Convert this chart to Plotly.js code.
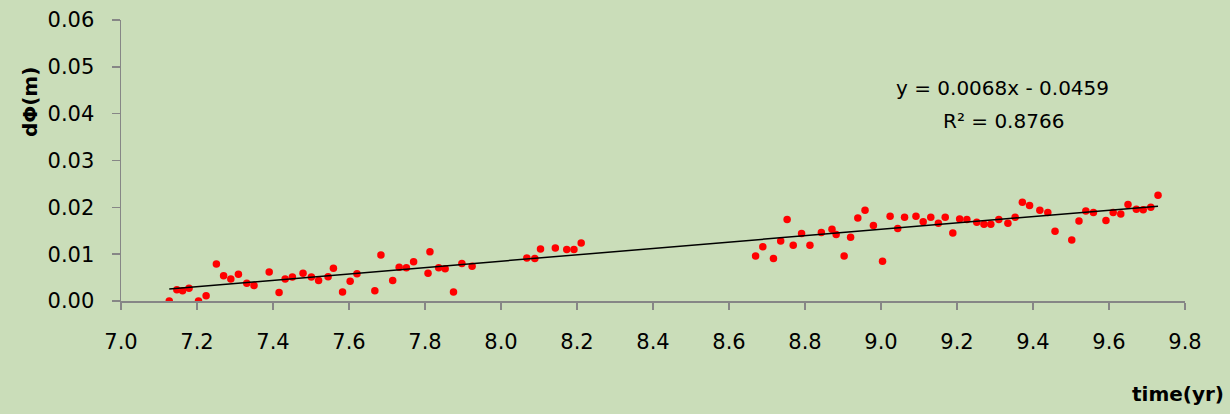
<!DOCTYPE html>
<html>
<head>
<meta charset="utf-8">
<script src="https://cdn.plot.ly/plotly-3.0.1.min.js"></script>
<style>html,body{margin:0;padding:0;background:#CADDB9;}#chart{width:1230px;height:414px;}</style>
</head>
<body>
<div id="chart"></div>
<script>
const timeYr = [7.127,7.147,7.162,7.179,7.204,7.224,7.251,7.270,7.289,7.309,7.331,7.350,7.390,7.416,7.432,7.451,7.479,7.501,7.520,7.545,7.559,7.583,7.603,7.621,
7.668,7.684,7.715,7.732,7.751,7.770,7.808,7.813,7.836,7.853,7.875,7.897,7.924,8.068,8.089,8.104,8.143,8.173,8.192,8.211,
8.670,8.689,8.717,8.736,8.753,8.769,8.791,8.813,8.843,8.871,8.882,8.903,8.920,8.939,8.958,8.980,9.004,9.024,9.044,9.062,9.092,9.111,9.131,9.151,9.169,9.189,9.207,9.226,9.252,
9.271,9.289,9.310,9.334,9.353,9.372,9.391,9.418,9.439,9.458,9.502,9.521,9.539,9.559,9.592,9.611,9.631,9.650,9.672,9.690,9.710,9.729];
const dPhi = [0.0000,0.0024,0.0022,0.0027,0.0000,0.0011,0.0079,0.0054,0.0047,0.0057,0.0038,0.0033,0.0062,0.0018,0.0047,0.0051,0.0059,0.0051,0.0044,0.0052,0.0070,0.0019,0.0042,0.0058,
0.0022,0.0098,0.0044,0.0072,0.0071,0.0084,0.0059,0.0105,0.0071,0.0069,0.0019,0.0080,0.0074,0.0092,0.0091,0.0111,0.0113,0.0110,0.0110,0.0124,
0.0096,0.0116,0.0091,0.0128,0.0174,0.0119,0.0144,0.0119,0.0146,0.0153,0.0142,0.0096,0.0136,0.0177,0.0194,0.0161,0.0085,0.0181,0.0155,0.0179,0.0181,0.0169,0.0179,0.0166,0.0179,0.0145,0.0175,0.0174,0.0168,
0.0164,0.0164,0.0174,0.0166,0.0179,0.0211,0.0204,0.0194,0.0189,0.0149,0.0130,0.0171,0.0192,0.0189,0.0172,0.0189,0.0186,0.0206,0.0196,0.0195,0.0200,0.0226];
const trendSlope = 0.0068;
const trendIntercept = -0.0459;
const equationText = "y = 0.0068x - 0.0459";
const r2Text = "R² = 0.8766";
const xTickVals = [7.0,7.2,7.4,7.6,7.8,8.0,8.2,8.4,8.6,8.8,9.0,9.2,9.4,9.6,9.8];
const yTickVals = [0,0.01,0.02,0.03,0.04,0.05,0.06];

const xMin = Math.min(...timeYr), xMax = Math.max(...timeYr);
const trendX = [xMin, xMax];
const trendY = trendX.map(v => trendSlope * v + trendIntercept);

const bg = '#CADDB9';
const axisCol = '#868686';
const fontFam = 'DejaVu Sans, sans-serif';

const traces = [
  {x: timeYr, y: dPhi, type: 'scatter', mode: 'markers',
   marker: {color: '#FF0000', size: 7.5}, hoverinfo: 'skip'},
  {x: trendX, y: trendY, type: 'scatter', mode: 'lines',
   line: {color: '#000000', width: 1.5}, hoverinfo: 'skip'}
];

const layout = {
  width: 1230, height: 414,
  paper_bgcolor: bg, plot_bgcolor: bg,
  showlegend: false,
  margin: {l: 121, r: 45, t: 20, b: 113, pad: 0},
  font: {family: fontFam, color: '#000', size: 21},
  xaxis: {
    range: [7.0, 9.8], tickvals: xTickVals,
    ticktext: xTickVals.map(v => v.toFixed(1)),
    showgrid: false, zeroline: false, showline: true,
    linecolor: axisCol, linewidth: 1.5,
    ticks: 'outside', ticklen: 7, tickcolor: axisCol, tickwidth: 1.5,
    tickfont: {family: fontFam, size: 21, color: '#000'},
    ticklabelstandoff: 14, fixedrange: true
  },
  yaxis: {
    range: [0, 0.06], tickvals: yTickVals,
    ticktext: yTickVals.map(v => v.toFixed(2)),
    showgrid: false, zeroline: false, showline: true,
    linecolor: axisCol, linewidth: 1.5,
    ticks: 'outside', ticklen: 8, tickcolor: axisCol, tickwidth: 1.5,
    tickfont: {family: fontFam, size: 21, color: '#000'},
    ticklabelstandoff: 13, fixedrange: true
  },
  annotations: [
    {text: equationText, xref: 'paper', yref: 'paper', x: (1002.5-121)/1064, y: (300.7-88)/280.7,
     xanchor: 'center', yanchor: 'middle', showarrow: false, font: {family: fontFam, size: 20, color: '#000'}},
    {text: r2Text, xref: 'paper', yref: 'paper', x: (1003-121)/1064, y: (300.7-121)/280.7,
     xanchor: 'center', yanchor: 'middle', showarrow: false, font: {family: fontFam, size: 20, color: '#000'}},
    {text: '<b>dΦ(m)</b>', xref: 'paper', yref: 'paper', x: (30-121)/1064, y: (300.7-102)/280.7,
     xanchor: 'center', yanchor: 'middle', textangle: -90, showarrow: false, font: {family: fontFam, size: 20, color: '#000'}},
    {text: '<b>time(yr)</b>', xref: 'paper', yref: 'paper', x: (1226-121)/1064, y: (300.7-394)/280.7,
     xanchor: 'right', yanchor: 'middle', showarrow: false, font: {family: fontFam, size: 20, color: '#000'}}
  ]
};

Plotly.newPlot('chart', traces, layout, {staticPlot: true, displayModeBar: false});
</script>
</body>
</html>
